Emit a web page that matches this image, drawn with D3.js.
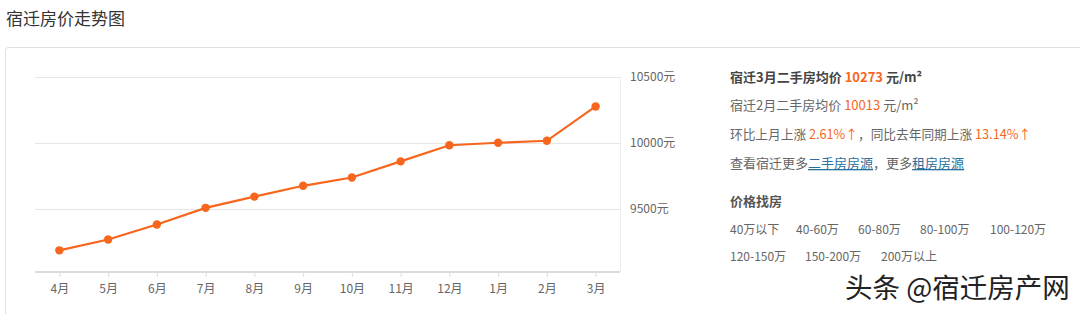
<!DOCTYPE html>
<html><head><meta charset="utf-8">
<script src="https://cdn.jsdelivr.net/npm/d3@7"></script>
<style>
html,body{margin:0;padding:0;background:#fff;overflow:hidden;}
body{width:1080px;height:314px;font-family:"Noto Sans CJK SC","Noto Sans",sans-serif;}
</style></head>
<body><svg id="c" width="1080" height="314"></svg>
<script>
const months = ["4月","5月","6月","7月","8月","9月","10月","11月","12月","1月","2月","3月"];
const prices = [9183,9265,9379,9505,9590,9672,9735,9857,9979,9998,10013,10273];
const yTicks = [9500,10000,10500];
const priceRanges1 = ["40万以下","40-60万","60-80万","80-100万","100-120万"];
const priceRanges2 = ["120-150万","150-200万","200万以上"];

const svg = d3.select("#c");
const F = '"Noto Sans CJK SC","Noto Sans",sans-serif';
const orange = "#f7661c";

// title
svg.append("text").attr("x",6).attr("y",25).attr("font-family",F).attr("font-size",17)
  .attr("fill","#333").text("宿迁房价走势图");
// panel box
svg.append("rect").attr("x",5.5).attr("y",47.5).attr("width",1100).attr("height",300)
  .attr("rx",3).attr("fill","#fff").attr("stroke","#e0e0e0");

const x = d3.scalePoint().domain(months).range([35,620]).padding(0.5);
const y = d3.scaleLinear().domain([9000,10500]).range([274.5,76.5]);
const axisY = 272;

const g = svg.append("g");
// gridlines
yTicks.forEach(t=>{
  g.append("line").attr("x1",35).attr("x2",620).attr("y1",Math.round(y(t))+0.5).attr("y2",Math.round(y(t))+0.5)
    .attr("stroke","#e6e6e6").attr("stroke-width",1);
});
// right vertical line
g.append("line").attr("x1",620.5).attr("x2",620.5).attr("y1",y(10500)).attr("y2",axisY)
  .attr("stroke","#eeeeee");
// right axis labels
const yAxis = d3.axisRight(y).tickValues(yTicks).tickSize(0).tickPadding(10).tickFormat(d=>d+"元");
const ya = g.append("g").attr("transform","translate(620,0)").call(yAxis);
ya.select(".domain").remove();
ya.selectAll("text").attr("font-family",F).attr("font-size",12).attr("fill","#666");

// bottom axis
const xAxis = d3.axisBottom(x).tickSize(5).tickPadding(7);
const xa = g.append("g").attr("transform","translate(0,"+axisY+")").call(xAxis);
xa.select(".domain").attr("stroke","#dcdcdc").attr("stroke-width",2).attr("d","M35,0H620");
xa.selectAll(".tick line").attr("stroke","#dcdcdc");
xa.selectAll("text").attr("font-family",F).attr("font-size",12).attr("fill","#666");

// line
const line = d3.line().x((d,i)=>x(months[i])).y(d=>y(d));
g.append("path").datum(prices).attr("d",line).attr("fill","none").attr("stroke",orange).attr("stroke-width",2.2);
g.selectAll("circle.pt").data(prices).enter().append("circle").attr("class","pt")
  .attr("cx",(d,i)=>x(months[i])).attr("cy",d=>y(d)).attr("r",4.2).attr("fill",orange);

// right info panel
const info = svg.append("g").attr("font-family",F);
function rich(xp, yp, parts, size, weight){
  const t = info.append("text").attr("x",xp).attr("y",yp).attr("font-size",size).attr("font-weight",weight||"normal");
  parts.forEach(p=>{
    const s = t.append("tspan").attr("fill",p.c||"#666").text(p.t);
    if(p.u) s.attr("text-decoration","underline");
  });
  return t;
}
rich(730,82,[{t:"宿迁3月二手房均价 ",c:"#444"},{t:String(prices[11]),c:orange},{t:" 元/m²",c:"#444"}],13,"bold");
rich(730,110,[{t:"宿迁2月二手房均价 ",c:"#666"},{t:String(prices[10]),c:orange},{t:" 元/m²",c:"#666"}],13);
rich(730,139,[{t:"环比上月上涨 ",c:"#666"},{t:"2.61%↑",c:orange},{t:"，同比去年同期上涨 ",c:"#666"},{t:"13.14%↑",c:orange}],12.7);
rich(730,168,[{t:"查看宿迁更多",c:"#666"},{t:"二手房房源",c:"#2a6f9e",u:true},{t:"，更多",c:"#666"},{t:"租房房源",c:"#2a6f9e",u:true}],13);
rich(730,206,[{t:"价格找房",c:"#555"}],13,"bold");
const r1x=[730,796,858,920,990], r2x=[730,805,881];
priceRanges1.forEach((s,i)=>info.append("text").attr("x",r1x[i]).attr("y",234).attr("font-size",12).attr("fill","#666").text(s));
priceRanges2.forEach((s,i)=>info.append("text").attr("x",r2x[i]).attr("y",261).attr("font-size",12).attr("fill","#666").text(s));

// watermark
svg.append("text").attr("x",845).attr("y",298).attr("font-family",F).attr("font-size",27.5)
  .attr("fill","#222").attr("stroke","#fff").attr("stroke-width",2.5).attr("paint-order","stroke")
  .text("头条 @宿迁房产网");
</script></body></html>
